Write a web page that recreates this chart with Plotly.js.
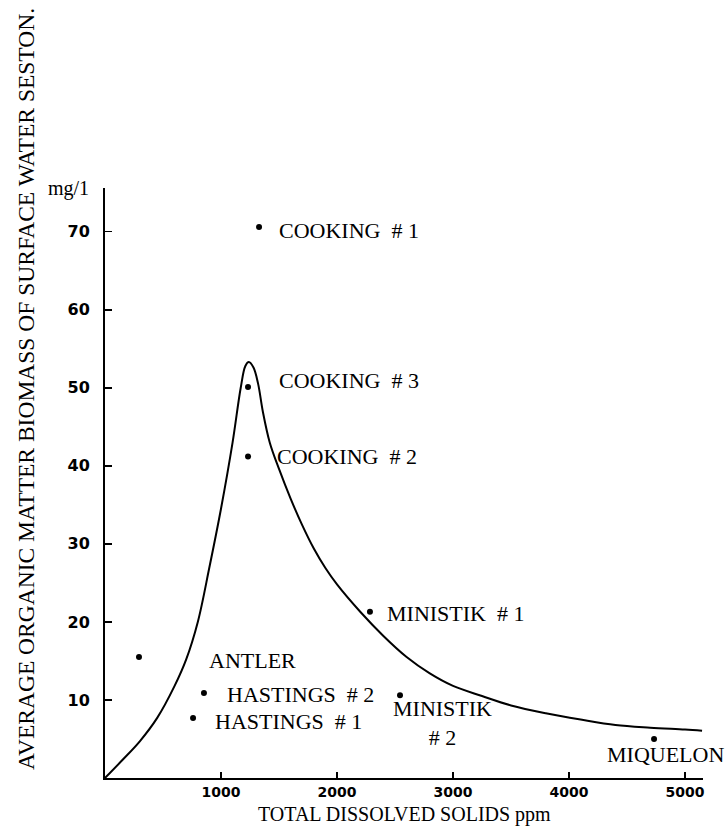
<!DOCTYPE html>
<html>
<head>
<meta charset="utf-8">
<script src="https://cdn.plot.ly/plotly-3.0.1.min.js"></script>
<style>html,body{margin:0;padding:0;background:#fff;}#chart{width:727px;height:833px;}</style>
</head>
<body>
<div id="chart"></div>
<script>
// Lake observations: total dissolved solids (ppm) vs seston organic biomass (mg/l)
const lakeNames = ["COOKING\u00a0 # 1", "COOKING\u00a0 # 3", "COOKING\u00a0 # 2", "MINISTIK\u00a0 # 1", "ANTLER",
                   "HASTINGS\u00a0 # 2", "HASTINGS\u00a0 # 1", "MINISTIK<br># 2", "MIQUELON"];
const lakeTDS = [1328, 1233, 1233, 2284, 293, 853, 759, 2543, 4733];
const lakeBiomass = [70.6, 50.1, 41.2, 21.3, 15.5, 10.9, 7.7, 10.6, 5.0];

// Hand-drawn trend curve
const curveTDS = [0, 150, 300, 450, 600, 700, 800, 900, 1000, 1100, 1170, 1210, 1240,
                  1280, 1320, 1360, 1420, 1500, 1600, 1700, 1800, 1900, 2000, 2200, 2400, 2600, 2800,
                  3000, 3250, 3500, 3800, 4100, 4400, 4700, 5000, 5147];
const curveBiomass = [0, 2.3, 4.7, 7.7, 11.8, 15.2, 20.0, 27.0, 34.5, 43.0, 50.0, 52.8, 53.3,
                      52.6, 50.5, 47.0, 43.0, 39.6, 35.8, 32.4, 29.4, 26.9, 24.8, 21.3, 18.2, 15.5, 13.4,
                      11.8, 10.5, 9.3, 8.3, 7.5, 6.8, 6.45, 6.2, 6.05];

const xTicks = [1000, 2000, 3000, 4000, 5000];
const yTicks = [10, 20, 30, 40, 50, 60, 70];

// label placement (pixel offsets from each point)
const labelStyle = [
  {xs: 18, ys: -3, xa: 'left'},
  {xs: 29, ys: 7, xa: 'left'},
  {xs: 27, ys: 0, xa: 'left'},
  {xs: 15, ys: -2, xa: 'left'},
  {xs: 68, ys: -3, xa: 'left'},
  {xs: 21, ys: -2, xa: 'left'},
  {xs: 20, ys: -4, xa: 'left'},
  {xs: 42, ys: -28, xa: 'center'},
  {xs: 11, ys: -16, xa: 'center'}
];

const serif = "'Liberation Serif', 'Times New Roman', serif";

const traces = [
  {x: curveTDS, y: curveBiomass, mode: 'lines', type: 'scatter',
   line: {color: '#000', width: 2, shape: 'spline', smoothing: 1}, hoverinfo: 'skip'},
  {x: lakeTDS, y: lakeBiomass, mode: 'markers', type: 'scatter',
   marker: {color: '#000', size: 6}, hoverinfo: 'skip'}
];

const annotations = lakeNames.map((n, i) => ({
  x: lakeTDS[i], y: lakeBiomass[i], xref: 'x', yref: 'y', text: n, showarrow: false,
  xanchor: labelStyle[i].xa, yanchor: 'middle', xshift: labelStyle[i].xs, yshift: labelStyle[i].ys,
  align: 'center', font: {family: serif, size: 22, color: '#000'}
}));

annotations.push({
  xref: 'paper', yref: 'paper', x: (26 - 105) / 598, y: (778 - 389) / 590,
  text: 'AVERAGE ORGANIC MATTER BIOMASS OF SURFACE WATER SESTON.', textangle: -90,
  showarrow: false, xanchor: 'center', yanchor: 'middle',
  font: {family: serif, size: 23.5, color: '#000'}
});
annotations.push({
  xref: 'paper', yref: 'paper', x: (91 - 105) / 598, y: (778 - 188) / 590,
  text: 'mg/1', showarrow: false, xanchor: 'right', yanchor: 'middle',
  font: {family: serif, size: 20, color: '#000'}
});
annotations.push({
  xref: 'paper', yref: 'paper', x: 0.5, y: -(814 - 778) / 590,
  text: 'TOTAL DISSOLVED SOLIDS ppm', showarrow: false, xanchor: 'center', yanchor: 'middle',
  font: {family: serif, size: 20, color: '#000'}
});

const layout = {
  width: 727, height: 833,
  margin: {l: 105, r: 24, t: 188, b: 55},
  paper_bgcolor: '#fff', plot_bgcolor: '#fff',
  showlegend: false,
  xaxis: {
    range: [0, 5155], tickvals: xTicks, ticktext: xTicks.map(String),
    showline: true, linecolor: '#000', linewidth: 2, ticks: 'inside', ticklen: 6, tickwidth: 1.5, tickcolor: '#000',
    showgrid: false, zeroline: false, fixedrange: true,
    tickfont: {family: 'DejaVu Sans, sans-serif', size: 14, color: '#000', weight: 'bold'}
  },
  yaxis: {
    range: [0, 75.6], tickvals: yTicks, ticktext: yTicks.map(String),
    showline: true, linecolor: '#000', linewidth: 2, ticks: 'inside', ticklen: 7, tickwidth: 1.5, tickcolor: '#000',
    showgrid: false, zeroline: false, fixedrange: true, ticklabelstandoff: 10,
    tickfont: {family: 'DejaVu Sans, sans-serif', size: 16, color: '#000', weight: 'bold'}
  },
  annotations: annotations
};

Plotly.newPlot('chart', traces, layout, {staticPlot: true, displayModeBar: false});
</script>
</body>
</html>
